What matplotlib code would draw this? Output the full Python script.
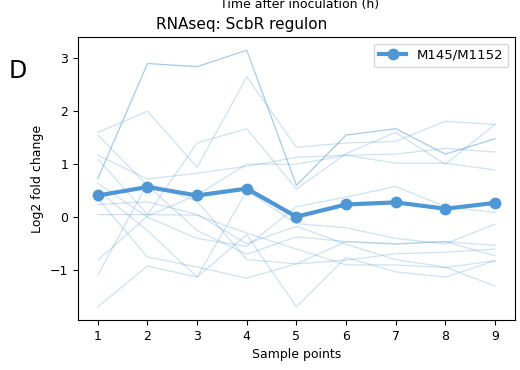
import matplotlib
matplotlib.use("Agg")
import matplotlib.pyplot as plt
import numpy as np

samples = [1, 2, 3, 4, 5, 6, 7, 8, 9]

# log2 fold changes of individual ScbR regulon genes
gene_a = [0.73, 2.90, 2.84, 3.15, 0.60, 1.55, 1.67, 1.19, 1.48]
gene_b = [1.60, 2.00, 0.94, 2.65, 1.32, 1.40, 1.43, 1.81, 1.75]
gene_c = [1.17, 0.72, 0.83, 0.96, 1.13, 1.17, 1.19, 1.30, 1.23]
gene_d = [1.10, 0.05, 1.40, 1.67, 0.53, 1.20, 1.60, 1.00, 1.75]
gene_e = [1.55, 0.60, -0.25, -0.70, -0.37, -0.46, -0.51, -0.46, -0.53]
gene_f = [0.64, 0.00, -0.40, -0.55, 0.20, 0.38, 0.58, 0.20, 0.09]
gene_g = [0.24, 0.29, 0.05, -0.50, -0.17, -0.51, -0.80, -0.94, -1.30]
gene_h = [0.05, 0.05, 0.04, -0.30, -0.60, -0.90, -0.90, -0.95, -0.82]
gene_i = [-0.81, 0.02, 0.42, 1.00, 1.00, 1.17, 1.02, 1.02, 0.89]
gene_j = [-1.09, 0.64, 0.30, -0.80, -0.88, -0.81, -0.69, -0.66, -0.60]
gene_k = [-1.69, -0.92, -1.13, 0.50, -0.12, -0.20, -0.40, -0.50, -0.13]
gene_l = [0.50, -0.25, -1.13, -0.33, -1.69, -0.76, -1.03, -1.13, -0.82]
gene_m = [0.35, -0.75, -0.94, -1.15, -0.88, -0.46, -0.50, -0.46, -0.73]

genes = [gene_a, gene_b, gene_c, gene_d, gene_e, gene_f, gene_g,
         gene_h, gene_i, gene_j, gene_k, gene_l, gene_m]

# regulon mean
mean_fc = [0.41, 0.57, 0.41, 0.54, 0.01, 0.24, 0.28, 0.16, 0.27]

color = "#4e97d4"

fig = plt.figure(figsize=(5.2, 3.7), dpi=100)
ax = fig.add_axes([0.15, 0.135, 0.84, 0.765])

for i, g in enumerate(genes):
    ax.plot(samples, g, color=color, lw=0.9, alpha=0.5 if i == 0 else 0.28)

ax.plot(samples, mean_fc, color=color, lw=3, marker="o", markersize=7.5,
        label="M145/M1152")

ax.set_xticks(samples)
ax.set_yticks([-1, 0, 1, 2, 3])
ax.set_ylim(-1.94, 3.40)
ax.set_xlim(0.6, 9.4)
ax.tick_params(labelsize=9)
ax.set_xlabel("Sample points", fontsize=9)
ax.set_ylabel("Log2 fold change", fontsize=9)
ax.legend(loc="upper right", fontsize=9.5)

fig.text(242 / 520, 1 - 29 / 370, "RNAseq: ScbR regulon", ha="center",
         va="baseline", fontsize=11)
fig.text(300 / 520, 1 - 8 / 370, "Time after inoculation (h)", ha="center",
         va="baseline", fontsize=9)
fig.text(18 / 520, 1 - 78 / 370, "D", ha="center", va="baseline", fontsize=17)

fig.savefig("out.png", dpi=100)
